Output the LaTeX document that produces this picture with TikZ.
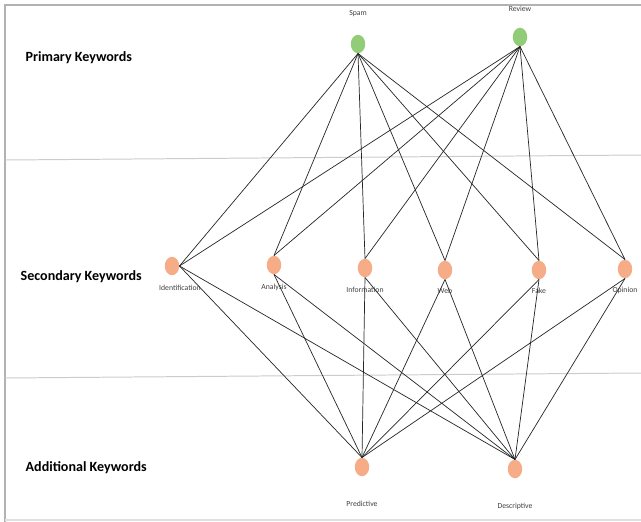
\documentclass[tikz,border=0pt]{standalone}
\usepackage{fontspec}
\setmainfont{Carlito}
\usetikzlibrary{shapes.geometric, positioning}

\definecolor{primgreen}{RGB}{146,204,118}
\definecolor{secorange}{RGB}{246,172,134}

\begin{document}
\begin{tikzpicture}[
                    x=0.025cm, y=-0.025cm,
                    kw/.style={ellipse, draw=none, minimum width=0.36cm, minimum height=0.46cm, inner sep=0pt},
                    prim/.style={kw, fill=primgreen},
                    sec/.style={kw, fill=secorange},
                    rowlabel/.style={font=\bfseries\fontsize{10}{11}\selectfont, anchor=west, inner sep=1pt},
                    small/.style={font=\fontsize{5.5}{6}\selectfont, text=black!75},
                    line/.style={draw, black!85, line width=0.5pt},
                    sep/.style={draw, black!20, line width=0.7pt}
                ]
                    \useasboundingbox (0,0) rectangle (641,522);
                    \fill[white] (0,0) rectangle (641,522);

                    % Frame and row separators
                    \draw[black!30, line width=1.2pt] (5,522) -- (5,5) -- (641,5);
                    \draw[black!12, line width=0.8pt] (5,520) -- (641,520);
                    \path [sep] (5,160) -- (641,155);
                    \path [sep] (5,378) -- (641,373);

                    % Row labels
                    \node [rowlabel] (rowprim) at (24,58) {Primary Keywords};
                    \node [rowlabel] (rowsec) at (19,277) {Secondary Keywords};
                    \node [rowlabel] (rowadd) at (24,468) {Additional Keywords};

                    % Primary keywords
                    \node [prim, label={[small, label distance=0.32cm]above:Spam}] (spam) at (358,44) {};
                    \node [prim, label={[small, label distance=0.28cm]above:Review}] (review) at (520,37) {};

                    % Secondary keywords
                    \node [sec, label={[small, label distance=0.12cm, xshift=0.2cm]below:Identification}] (ident) at (172,266) {};
                    \node [sec, label={[small, label distance=0.12cm]below:Analysis}] (analysis) at (274,265) {};
                    \node [sec, label={[small, label distance=0.12cm]below:Information}] (info) at (365,268) {};
                    \node [sec, label={[small, label distance=0.1cm]below:Web}] (web) at (445,270) {};
                    \node [sec, label={[small, label distance=0.1cm]below:Fake}] (fake) at (539,270) {};
                    \node [sec, label={[small, label distance=0.1cm]below:Opinion}] (opinion) at (625,269) {};

                    % Additional keywords
                    \node [sec, label={[small, label distance=0.5cm]below:Predictive}] (predictive) at (362,467) {};
                    \node [sec, label={[small, label distance=0.5cm]below:Descriptive}] (descriptive) at (515,469) {};

                    % Draw edges
                    \foreach \p in {spam, review}
                        \foreach \s/\in in {ident/east, analysis/north, info/north, web/north, fake/north, opinion/north}
                            \path [line] (\p.south) -- (\s.\in);
                    \foreach \s/\out in {ident/east, analysis/south, info/south, web/south, fake/south, opinion/south}
                        \foreach \a in {predictive, descriptive}
                            \path [line] (\s.\out) -- (\a.north);
            \end{tikzpicture}
\end{document}
